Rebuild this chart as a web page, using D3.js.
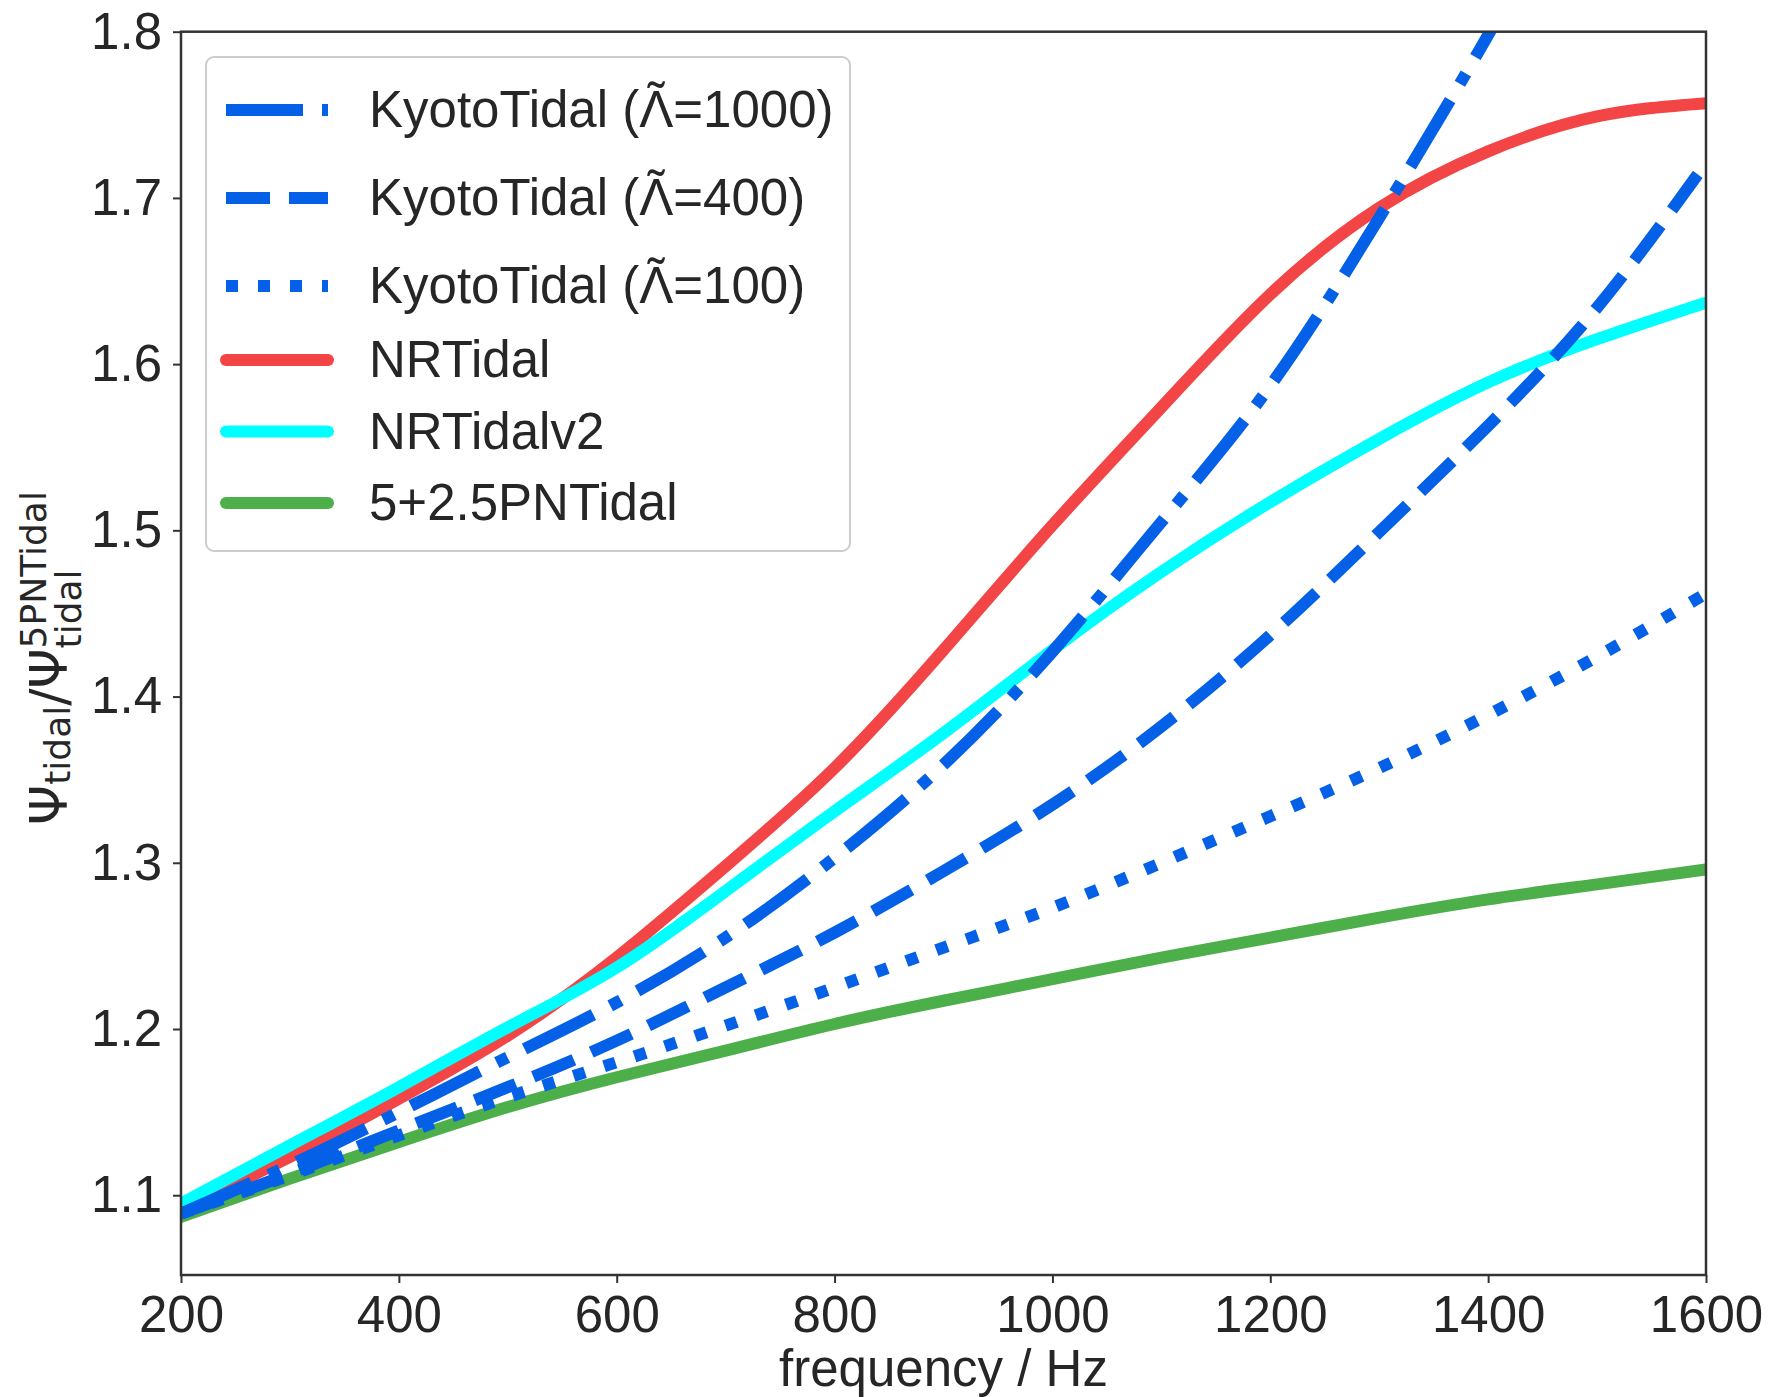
<!DOCTYPE html>
<html>
<head>
<meta charset="utf-8">
<script src="https://cdn.jsdelivr.net/npm/d3@7"></script>
<style>
  body { margin: 0; background: #fff; }
  text { fill: #262626; }
</style>
</head>
<body>
<svg id="chart"></svg>
<script>
// frequency grid (Hz)
const freq = [200, 300, 400, 500, 600, 700, 800, 900, 1000, 1100, 1200, 1300, 1400, 1500, 1600];

const kyoto1000 = [1.089, 1.118, 1.150, 1.183, 1.216, 1.255, 1.303, 1.359, 1.427, 1.505, 1.587, 1.688, 1.798, 1.920, 2.060];
const kyoto400  = [1.089, 1.113, 1.139, 1.165, 1.193, 1.225, 1.258, 1.295, 1.335, 1.382, 1.437, 1.499, 1.563, 1.634, 1.721];
const kyoto100  = [1.089, 1.112, 1.136, 1.159, 1.180, 1.202, 1.225, 1.249, 1.273, 1.300, 1.328, 1.357, 1.389, 1.424, 1.462];
const nrTidal   = [1.092, 1.123, 1.158, 1.196, 1.243, 1.298, 1.357, 1.428, 1.503, 1.574, 1.642, 1.694, 1.728, 1.749, 1.757];
const nrTidalv2 = [1.095, 1.130, 1.165, 1.201, 1.237, 1.283, 1.331, 1.378, 1.428, 1.475, 1.517, 1.555, 1.589, 1.615, 1.637];
const pnTidal   = [1.087, 1.110, 1.132, 1.153, 1.171, 1.187, 1.203, 1.217, 1.230, 1.243, 1.255, 1.267, 1.278, 1.287, 1.296];

const xTicks = [200, 400, 600, 800, 1000, 1200, 1400, 1600];
const yTicks = [1.1, 1.2, 1.3, 1.4, 1.5, 1.6, 1.7, 1.8];

const W = 1773, H = 1397;
const mLeft = 181, mRight = 1706, mTop = 31.7, mBottom = 1275;
const lw = 12;
const fs = 51;
const font = "'Liberation Sans', Arial, sans-serif";

// legend order
const series = [
  { label: "KyotoTidal (\u039B\u0303=1000)", values: kyoto1000, color: "#0560e8", dash: "77,19,12,19" },
  { label: "KyotoTidal (\u039B\u0303=400)",  values: kyoto400,  color: "#0560e8", dash: "44,19" },
  { label: "KyotoTidal (\u039B\u0303=100)",  values: kyoto100,  color: "#0560e8", dash: "12,20" },
  { label: "NRTidal",     values: nrTidal,   color: "#f34545", dash: null },
  { label: "NRTidalv2",   values: nrTidalv2, color: "#00ffff", dash: null },
  { label: "5+2.5PNTidal", values: pnTidal,  color: "#4daf4a", dash: null }
];
// drawing order (blue on top)
const drawOrder = [5, 3, 4, 2, 1, 0];

const svg = d3.select("#chart").attr("width", W).attr("height", H);

const x = d3.scaleLinear().domain([200, 1600]).range([mLeft, mRight]);
const y = d3.scaleLinear().domain([1.052, 1.8]).range([mBottom, mTop]);

svg.append("clipPath").attr("id", "clip")
  .append("rect").attr("x", mLeft).attr("y", mTop)
  .attr("width", mRight - mLeft).attr("height", mBottom - mTop);

// curves
const line = d3.line()
  .x((d, i) => x(freq[i]))
  .y(d => y(d))
  .curve(d3.curveNatural);

const plot = svg.append("g").attr("clip-path", "url(#clip)");
drawOrder.forEach(k => {
  const s = series[k];
  plot.append("path")
    .attr("d", line(s.values))
    .attr("fill", "none")
    .attr("stroke", s.color)
    .attr("stroke-width", lw)
    .attr("stroke-dasharray", s.dash)
    .attr("stroke-linecap", s.dash ? "butt" : "round")
    .attr("stroke-linejoin", "round");
});

// axes
const xAxis = svg.append("g")
  .attr("transform", "translate(0," + mBottom + ")")
  .call(d3.axisBottom(x).tickValues(xTicks).tickFormat(d3.format("d")).tickSize(8).tickPadding(13));
const yAxis = svg.append("g")
  .attr("transform", "translate(" + mLeft + ",0)")
  .call(d3.axisLeft(y).tickValues(yTicks).tickFormat(d3.format(".1f")).tickSize(8).tickPadding(11));

[xAxis, yAxis].forEach(a => {
  a.select(".domain").remove();
  a.selectAll(".tick line").attr("stroke", "#333").attr("stroke-width", 2);
  a.selectAll(".tick text").attr("font-size", fs).attr("font-family", font).attr("fill", "#262626");
});

// frame
svg.append("rect")
  .attr("x", mLeft).attr("y", mTop)
  .attr("width", mRight - mLeft).attr("height", mBottom - mTop)
  .attr("fill", "none").attr("stroke", "#333").attr("stroke-width", 2.5);

// x label
svg.append("text")
  .attr("x", (mLeft + mRight) / 2).attr("y", 1386)
  .attr("text-anchor", "middle")
  .attr("font-family", font).attr("font-size", fs)
  .text("frequency / Hz");

// y label: Psi_tidal / Psi_tidal^5PNTidal
const yl = svg.append("g").attr("font-family", "'DejaVu Sans', sans-serif");
const main = yl.append("text").attr("font-size", 51);
main.append("tspan").text("\u03A8");
main.append("tspan").attr("font-size", 36).attr("dy", 3).text("tidal");
main.append("tspan").attr("dy", -3).text("/\u03A8");
const w1 = main.node().getComputedTextLength();
const sup = yl.append("text").attr("font-size", 36).attr("x", w1).attr("y", -21).text("5PNTidal");
const sub = yl.append("text").attr("font-size", 36).attr("x", w1).attr("y", 14).text("tidal");
const total = w1 + Math.max(sup.node().getComputedTextLength(), sub.node().getComputedTextLength());
yl.attr("transform", "translate(67," + (658 + total / 2) + ") rotate(-90)");

// legend
const lg = svg.append("g");
lg.append("rect")
  .attr("x", 206).attr("y", 57).attr("width", 644).attr("height", 494)
  .attr("rx", 8)
  .attr("fill", "#fff").attr("fill-opacity", 0.8)
  .attr("stroke", "#cccccc").attr("stroke-width", 2);

// measure a glyph width in the legend font
function textWidth(str) {
  const t = svg.append("text").attr("font-family", font).attr("font-size", fs).text(str);
  const w = t.node().getComputedTextLength();
  t.remove();
  return w;
}
const wLam = textWidth("\u039B"), wTil = textWidth("\u02DC");

series.forEach((s, i) => {
  const ly = i < 3 ? 110 + i * 88 : 360 + (i - 3) * 71.5;
  lg.append("line")
    .attr("x1", 226).attr("x2", 328).attr("y1", ly).attr("y2", ly)
    .attr("stroke", s.color).attr("stroke-width", lw)
    .attr("stroke-dasharray", s.dash)
    .attr("stroke-linecap", s.dash ? "butt" : "round");
  const t = lg.append("text")
    .attr("x", 369).attr("y", ly + 17)
    .attr("font-family", font).attr("font-size", fs);
  const k = s.label.indexOf("\u0303");
  if (k < 0) {
    t.text(s.label);
  } else {
    // combining tilde placed by hand over the Lambda
    t.append("tspan").text(s.label.slice(0, k));
    t.append("tspan").attr("dx", -(wLam + wTil) / 2).attr("dy", -8).text("\u02DC");
    t.append("tspan").attr("dx", (wLam - wTil) / 2).attr("dy", 8).text(s.label.slice(k + 1));
  }
});
</script>
</body>
</html>
